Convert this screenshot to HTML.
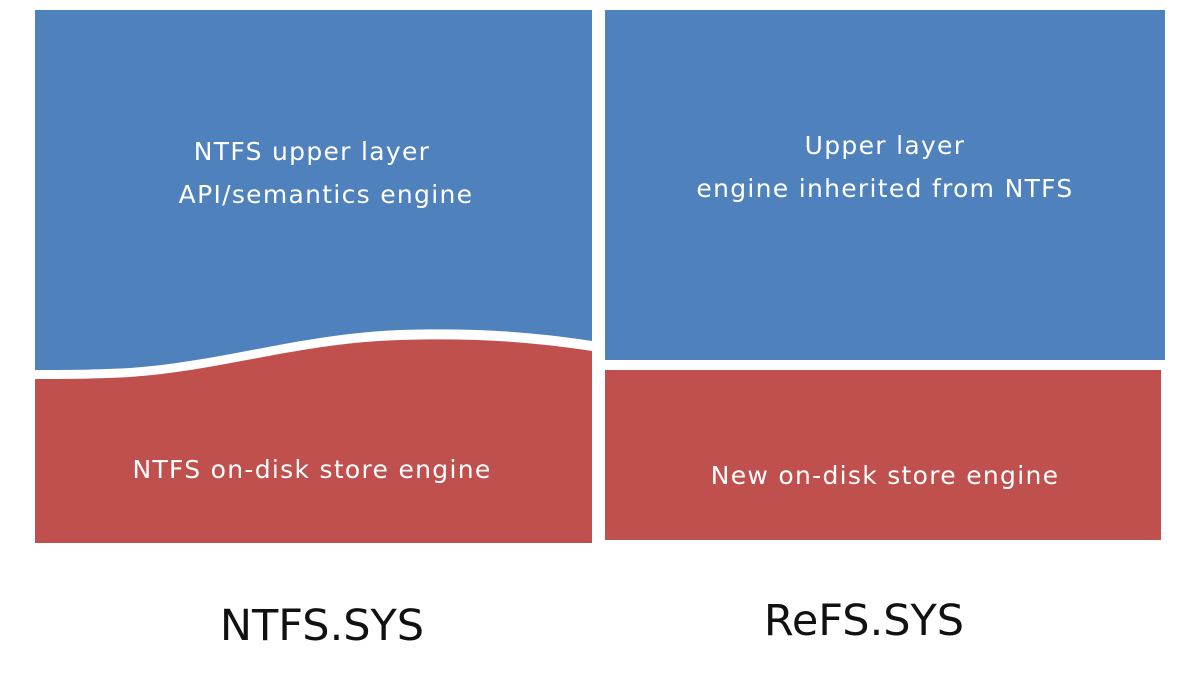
<!DOCTYPE html>
<html><head><meta charset="utf-8"><style>
html,body{margin:0;padding:0;background:#fff;}
svg{display:block}
</style></head><body>
<svg width="1200" height="675" viewBox="0 0 1200 675" xmlns="http://www.w3.org/2000/svg">
<rect width="1200" height="675" fill="#fff"/>
<path d="M35,10 H592 V341 C520,330 460,328 400,330 C300,334 220,362 130,368 C90,370 60,370 35,370 Z" fill="#4f81bd"/>
<path d="M35,379 C60,379 90,379 130,377 C220,371 300,343 400,340 C460,338 520,340 592,351 V543 H35 Z" fill="#c0504d"/>
<rect x="605" y="10" width="560" height="350" fill="#4f81bd"/>
<rect x="605" y="370" width="556" height="170" fill="#c0504d"/>
<g font-family="'DejaVu Sans','Liberation Sans',sans-serif" font-size="25" fill="#fff" text-anchor="middle" letter-spacing="1.3">
<text x="312" y="160">NTFS upper layer</text>
<text x="326" y="203">API/semantics engine</text>
<text x="312" y="478">NTFS on-disk store engine</text>
<text x="885" y="154">Upper layer</text>
<text x="885" y="197">engine inherited from NTFS</text>
<text x="885" y="484">New on-disk store engine</text>
</g>
<g font-family="'DejaVu Sans','Liberation Sans',sans-serif" font-size="43" fill="#111" text-anchor="middle">
<text x="322" y="640">NTFS.SYS</text>
<text x="864" y="635">ReFS.SYS</text>
</g>
</svg>
</body></html>
